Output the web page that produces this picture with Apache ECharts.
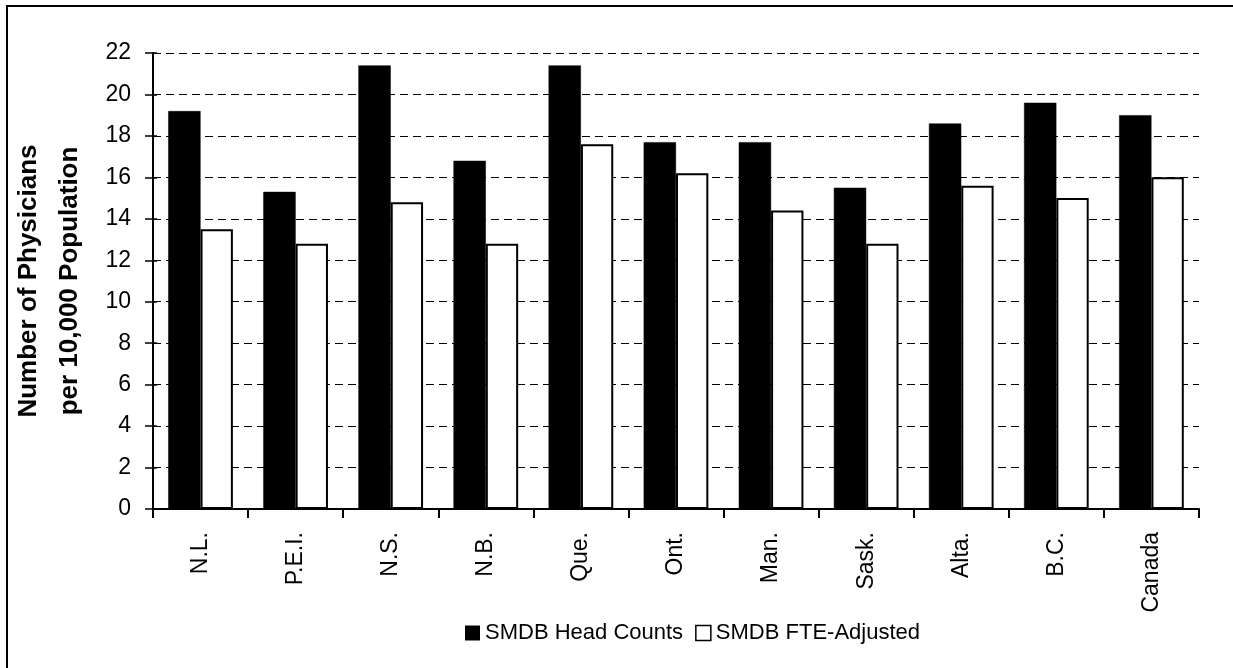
<!DOCTYPE html>
<html>
<head>
<meta charset="utf-8">
<style>
  html, body { margin: 0; padding: 0; background: #fff; }
  #chart { width: 1233px; height: 668px; }
</style>
<script src="https://cdn.jsdelivr.net/npm/echarts@6/dist/echarts.min.js"></script>
</head>
<body>
<div id="chart"></div>
<script>
// Provinces plus the national total
const provinces = ['N.L.', 'P.E.I.', 'N.S.', 'N.B.', 'Que.', 'Ont.', 'Man.', 'Sask.', 'Alta.', 'B.C.', 'Canada'];

// Physicians per 10,000 population
const headCounts = [19.2, 15.3, 21.4, 16.8, 21.4, 17.7, 17.7, 15.5, 18.6, 19.6, 19.0];
const fteAdjusted = [13.5, 12.8, 14.8, 12.8, 17.6, 16.2, 14.4, 12.8, 15.6, 15.0, 16.0];

const seriesNames = ['SMDB Head Counts', 'SMDB FTE-Adjusted'];
const yTitle = 'Number of Physicians\nper 10,000 Population';

const FONT = 'Liberation Sans, Arial, Helvetica, sans-serif';

const chart = echarts.init(document.getElementById('chart'), null, { renderer: 'canvas' });

chart.setOption({
  animation: false,
  backgroundColor: '#fff',
  textStyle: { fontFamily: FONT, color: '#000' },
  // frame around the chart area
  graphic: [{
    type: 'rect',
    shape: { x: 7, y: 6, width: 1300, height: 700 },
    style: { fill: 'none', stroke: '#000', lineWidth: 2 },
    silent: true
  }],
  grid: { left: 151, right: 34, top: 53, bottom: 159, containLabel: false },
  legend: {
    data: [
      { name: seriesNames[0], icon: 'rect', itemStyle: { color: '#000', borderWidth: 0 } },
      { name: seriesNames[1], icon: 'rect', itemStyle: { color: '#fff', borderColor: '#000', borderWidth: 1.5 } }
    ],
    left: 460,
    top: 617,
    itemWidth: 15,
    itemHeight: 15,
    itemGap: 12,
    textStyle: { fontSize: 22, color: '#000', fontFamily: FONT },
    selectedMode: false
  },
  xAxis: {
    type: 'category',
    data: provinces,
    axisLine: { lineStyle: { color: '#000', width: 2 } },
    axisTick: { show: true, length: 9, interval: 0, lineStyle: { color: '#000', width: 2 } },
    axisLabel: { rotate: 90, fontSize: 23, color: '#000', margin: 23, interval: 0, fontFamily: FONT },
    splitLine: { show: false }
  },
  yAxis: [
    {
      type: 'value',
      min: 0,
      max: 22,
      interval: 2,
      name: yTitle,
      nameLocation: 'middle',
      nameGap: 63,
      nameRotate: 90,
      nameTextStyle: { fontSize: 26, fontWeight: 'bold', color: '#000', lineHeight: 41, fontFamily: FONT },
      axisLine: { show: true, lineStyle: { color: '#000', width: 2 } },
      axisTick: { show: true, length: 8, lineStyle: { color: '#000', width: 1.5 } },
      axisLabel: { fontSize: 23, color: '#000', margin: 22, fontFamily: FONT },
      splitLine: { show: true, lineStyle: { color: '#000', width: 1, type: [8, 5] } }
    },
    {
      // same scale, only the short inner half of each tick mark
      type: 'value',
      position: 'left',
      min: 0,
      max: 22,
      interval: 2,
      axisLine: { show: false },
      axisTick: { show: true, inside: true, length: 4, lineStyle: { color: '#000', width: 1.5 } },
      axisLabel: { show: false },
      splitLine: { show: false }
    }
  ],
  series: [
    {
      name: seriesNames[0],
      type: 'bar',
      data: headCounts,
      barWidth: '34%',
      barGap: '0%',
      itemStyle: { color: '#000', borderColor: '#000', borderWidth: 0.5 }
    },
    {
      name: seriesNames[1],
      type: 'bar',
      data: fteAdjusted,
      barWidth: '34%',
      barGap: '0%',
      itemStyle: { color: '#fff', borderColor: '#000', borderWidth: 2 }
    }
  ]
});
</script>
</body>
</html>
